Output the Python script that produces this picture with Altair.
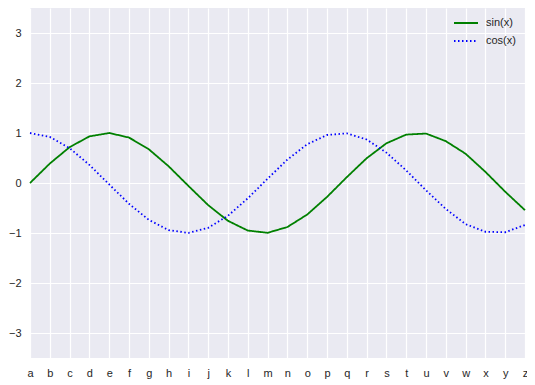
import altair as alt
import pandas as pd

letters = list("abcdefghijklmnopqrstuvwxyz")
sin_vals = [0.0, 0.389, 0.717, 0.932, 1.0, 0.909, 0.675, 0.335, -0.058, -0.443,
            -0.757, -0.951, -0.996, -0.880, -0.631, -0.279, 0.117, 0.494, 0.794,
            0.968, 0.989, 0.837, 0.585, 0.223, -0.174, -0.544]
cos_vals = [1.0, 0.921, 0.697, 0.362, -0.029, -0.416, -0.737, -0.942, -0.998,
            -0.897, -0.654, -0.307, 0.087, 0.468, 0.775, 0.960, 0.993, 0.870,
            0.608, 0.251, -0.146, -0.519, -0.823, -0.975, -0.985, -0.839]
series = ["sin(x)", "cos(x)"]
colors = ["#008000", "#0000ff"]
dashes = [[1, 0], [1.5, 2.5]]

rows = []
for i, l in enumerate(letters):
    rows.append({"x": l, "y": sin_vals[i], "s": series[0]})
    rows.append({"x": l, "y": cos_vals[i], "s": series[1]})
df = pd.DataFrame(rows)

font = "Liberation Sans"
chart = alt.Chart(df).mark_line(strokeWidth=1.8).encode(
    x=alt.X("x:O", sort=letters, title=None,
            scale=alt.Scale(type="point", padding=0),
            axis=alt.Axis(labelAngle=0, ticks=False, domain=False, grid=True,
                          gridColor="white", gridWidth=1.2, labelPadding=9,
                          labelFontSize=11, labelColor="#262626", labelFont=font)),
    y=alt.Y("y:Q", title=None, scale=alt.Scale(domain=[-3.5, 3.5], nice=False),
            axis=alt.Axis(values=[-3, -2, -1, 0, 1, 2, 3], ticks=False, domain=False,
                          gridColor="white", gridWidth=1.2, labelPadding=9,
                          labelFontSize=11, labelColor="#262626", labelFont=font)),
    color=alt.Color("s:N", sort=series,
                    scale=alt.Scale(domain=series, range=colors),
                    legend=alt.Legend(title=None, orient="none", legendX=423, legendY=2,
                                      symbolType="stroke", symbolSize=576,
                                      symbolStrokeWidth=1.8, labelFontSize=11,
                                      labelFont=font, labelColor="#262626",
                                      labelOffset=7, rowPadding=-6, padding=0)),
    strokeDash=alt.StrokeDash("s:N", sort=series,
                              scale=alt.Scale(domain=series, range=dashes),
                              legend=None),
    order=alt.Order("idx:Q"),
).transform_calculate(
    idx="indexof('abcdefghijklmnopqrstuvwxyz', datum.x)"
).properties(
    width=495, height=350,
    background="white",
    padding={"left": 22, "top": 0, "right": 2, "bottom": 25},
    autosize="none",
).configure_view(fill="#EAEAF2", stroke=None)

chart.save("out.html", embed_options={"renderer": "svg", "actions": False})
